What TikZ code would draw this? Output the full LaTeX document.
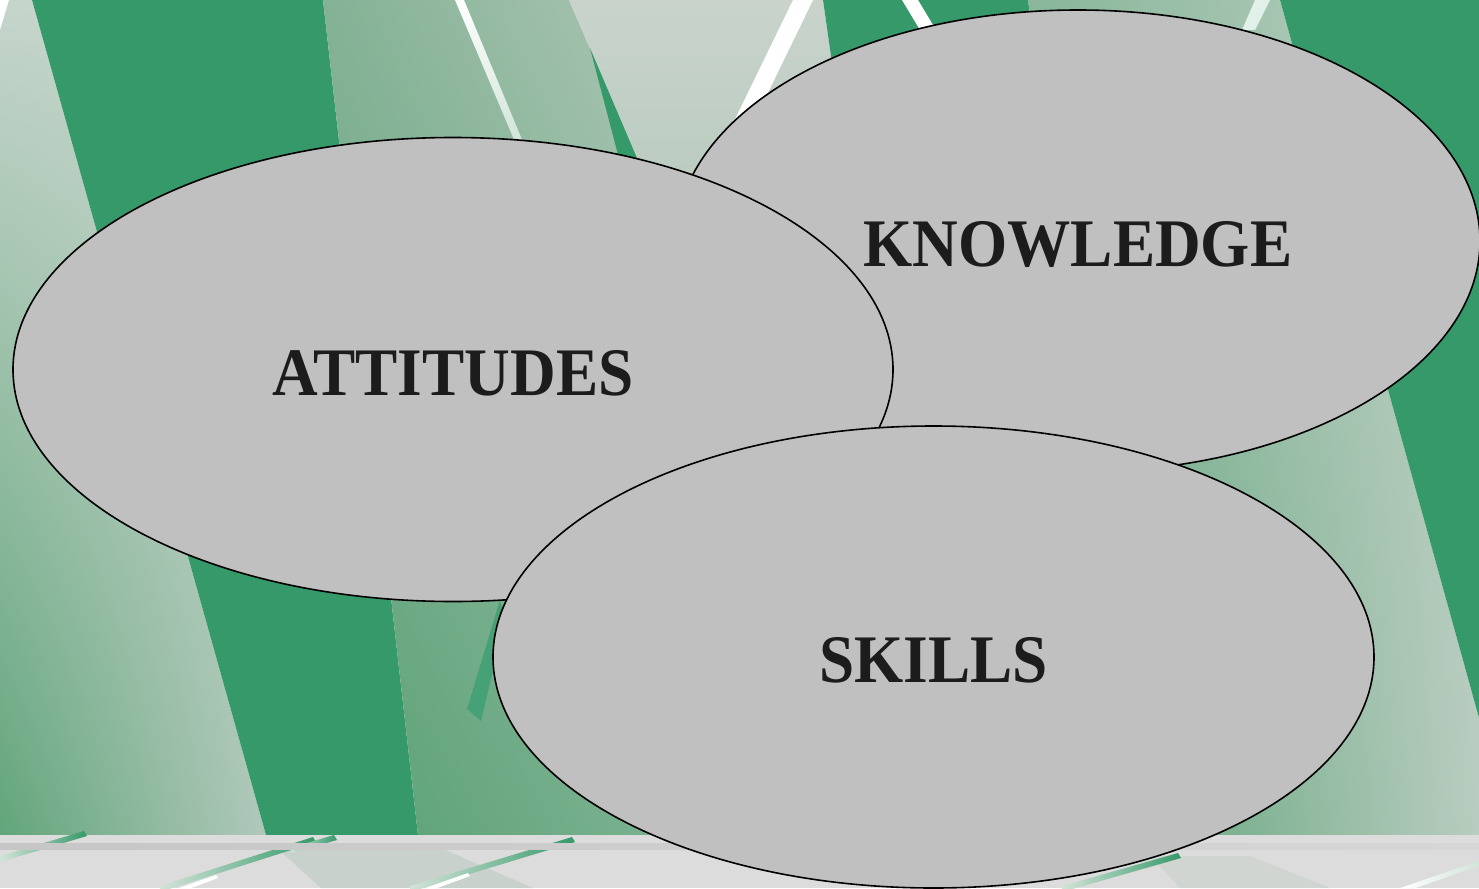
\documentclass[tikz,border=0pt]{standalone}
\usepackage{fontspec}
\setmainfont{Liberation Serif}
\usetikzlibrary{shapes.geometric,shadings}
\definecolor{dg}{HTML}{36996A}
\definecolor{bubblegray}{HTML}{C0C0C0}
\definecolor{textgray}{HTML}{1C1C1C}
\definecolor{aul}{HTML}{C6D5CC}
\definecolor{aur}{HTML}{C8D6CD}
\definecolor{all}{HTML}{62A57B}
\definecolor{alr}{HTML}{B0C8BA}
\definecolor{bul}{HTML}{84B295}
\definecolor{bur}{HTML}{B6CABD}
\definecolor{bll}{HTML}{58A074}
\definecolor{blr}{HTML}{84B697}
\definecolor{ltop}{HTML}{C9D3CC}
\definecolor{lbot}{HTML}{AFC6B7}
\definecolor{cul}{HTML}{88B79A}
\definecolor{cur}{HTML}{BFD0C5}
\definecolor{cll}{HTML}{4E9C6E}
\definecolor{clr}{HTML}{B8CCBF}
\definecolor{stripgray}{HTML}{DCDCDC}
\definecolor{bandl}{HTML}{C6C6C6}
\definecolor{bandr}{HTML}{D6D6D6}
\definecolor{speck}{HTML}{C8D1CB}
\definecolor{strokelight}{HTML}{D2E4D8}
\newcommand{\sqz}[1]{\scalebox{0.93}[1]{#1}}
\begin{document}
\begin{tikzpicture}[x=1pt,y=-1pt,
  bubble/.style={ellipse, draw=black, line width=1.6pt, fill=bubblegray,
    inner sep=0pt, text=textgray, font=\fontsize{68}{72}\selectfont\bfseries,
    text height=51pt, text depth=0pt},
  greenpart/.style={fill=dg},
  glint/.style={fill=white},
  grstroke/.style={left color=strokelight, right color=dg}]
\useasboundingbox (0,0) rectangle (1479,888);
\begin{scope}
\clip (0,0) rectangle (1479,888);
% left light region
\shade[upper left=aul, upper right=aur, lower left=all, lower right=alr]
  (0,0) -- (32,0) -- (266,835) -- (0,835) -- cycle;
\fill[glint] (0,0) -- (9,0) -- (0,30) -- cycle;
% dark green stripe
\fill[greenpart] (32,0) -- (323,0) -- (418,835) -- (266,835) -- cycle;
% mid gradient region
\shade[upper left=bul, upper right=bur, lower left=bll, lower right=blr]
  (323,0) -- (569,0) -- (708,320) -- (760,835) -- (418,835) -- cycle;
\shade[top color=white, bottom color=strokelight]
  (455,0) -- (464,0) -- (523,142) -- (515,142) -- cycle;
% light top region
\shade[top color=ltop, bottom color=lbot]
  (569,0) -- (823,0) -- (870,330) -- (708,320) -- cycle;
\fill[greenpart] (590,48) -- (622,170) -- (642,170) -- cycle;
\fill[glint] (793,0) -- (813,0) -- (745,140) -- (725,140) -- cycle;
% top green region
\fill[greenpart] (823,0) -- (1028,0) -- (1070,300) -- (870,330) -- cycle;
\fill[glint] (902,0) -- (918,0) -- (948,50) -- (932,50) -- cycle;
% right gradient region
\shade[upper left=cul, upper right=cur, lower left=cll, lower right=clr]
  (1028,0) -- (1280,0) -- (1479,718) -- (1479,835) -- (1100,835) -- (1070,300) -- cycle;
\fill[white!85!dg] (1255,0) -- (1270,0) -- (1255,30) -- (1242,30) -- cycle;
% right green region
\fill[greenpart] (1280,0) -- (1479,0) -- (1479,718) -- cycle;
% small sliver
\fill[dg!92!white] (467,709) -- (481,721) -- (505,620) -- (500,600) -- cycle;
% bottom strip
\fill[stripgray] (0,835) rectangle (1479,888);
\fill[speck] (278,849) -- (443,849) -- (533,888) -- (321,888) -- cycle;
\fill[speck!60!stripgray] (1150,856) -- (1250,856) -- (1330,888) -- (1180,888) -- cycle;
\shade[grstroke] (0,856) -- (84,831) -- (87,836) -- (0,862) -- cycle;
\shade[grstroke] (160,886) -- (313,837) -- (316,842) -- (160,892) -- cycle;
\shade[grstroke] (290,848) -- (334,835) -- (337,840) -- (292,853) -- cycle;
\shade[grstroke] (410,886) -- (572,837) -- (575,842) -- (410,892) -- cycle;
\shade[grstroke] (1062,886) -- (1178,853) -- (1181,858) -- (1062,892) -- cycle;
\shade[left color=white, right color=strokelight] (1400,888) -- (1479,861) -- (1479,866) -- (1410,890) -- cycle;
\fill[glint] (179,888) -- (216,875) -- (218,878) -- (186,890) -- cycle;
\fill[glint] (425,888) -- (468,873) -- (470,876) -- (432,890) -- cycle;
\shade[left color=bandl, right color=bandr] (0,843) rectangle (1479,849);
% bubbles
\node[bubble, minimum width=804pt, minimum height=462pt] (knowledge) at (1078,241) {\sqz{KNOWLEDGE}};
\node[bubble, minimum width=880pt, minimum height=464pt] (attitudes) at (453,369.5) {\sqz{ATTITUDES}};
\node[bubble, minimum width=881pt, minimum height=462pt] (skills) at (933.5,657) {\sqz{SKILLS}};
\end{scope}
\end{tikzpicture}
\end{document}
